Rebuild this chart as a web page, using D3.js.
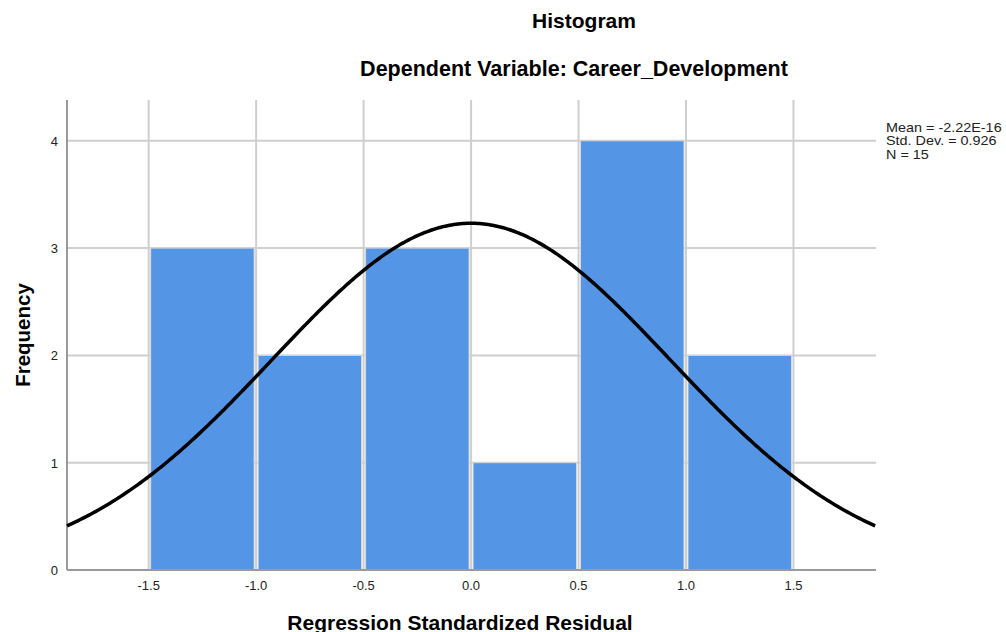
<!DOCTYPE html>
<html>
<head>
<meta charset="utf-8">
<script src="https://cdn.jsdelivr.net/npm/d3@7"></script>
<style>
  body { margin: 0; background: #fff; }
  text { font-family: Arial, "Liberation Sans", sans-serif; }
</style>
</head>
<body>
<div id="graphic"></div>
<script>
// histogram data
const binStarts = [-1.5, -1.0, -0.5, 0.0, 0.5, 1.0];
const binWidth = 0.5;
const frequencies = [3, 2, 3, 1, 4, 2];
const xTicks = [-1.5, -1.0, -0.5, 0.0, 0.5, 1.0, 1.5];
const yTicks = [0, 1, 2, 3, 4];
// normal curve stats (as printed in legend)
const mean = -2.22e-16, stdDev = 0.926, nCases = 15;
const legendLines = ["Mean = -2.22E-16", "Std. Dev. = 0.926", "N = 15"];

const width = 1006, height = 632;
const margin = { top: 100, left: 67, right: 130, bottom: 62 };

const svg = d3.select("#graphic").append("svg")
  .attr("width", width)
  .attr("height", height);

const x = d3.scaleLinear()
  .domain([-1.88, 1.884])
  .range([margin.left, width - margin.right]);

const y = d3.scaleLinear()
  .domain([0, 4.38])
  .range([height - margin.bottom, margin.top]);

// gridlines
svg.append("g").selectAll("line")
  .data(xTicks)
  .enter().append("line")
  .attr("x1", d => x(d)).attr("x2", d => x(d))
  .attr("y1", y(0)).attr("y2", margin.top)
  .attr("stroke", "#cfcfcf").attr("stroke-width", 2);

svg.append("g").selectAll("line")
  .data(yTicks.slice(1))
  .enter().append("line")
  .attr("x1", margin.left).attr("x2", width - margin.right)
  .attr("y1", d => y(d)).attr("y2", d => y(d))
  .attr("stroke", "#cfcfcf").attr("stroke-width", 2);

// bars
svg.append("g").selectAll("rect")
  .data(binStarts)
  .enter().append("rect")
  .attr("x", d => x(d) + 2)
  .attr("width", d => x(d + binWidth) - x(d) - 4)
  .attr("y", (d, i) => y(frequencies[i]))
  .attr("height", (d, i) => y(0) - y(frequencies[i]))
  .attr("fill", "#5595e5")
  .attr("stroke", "#d8d8d8")
  .attr("stroke-width", 1);

// axis lines
svg.append("line")
  .attr("x1", margin.left).attr("x2", margin.left)
  .attr("y1", margin.top).attr("y2", y(0))
  .attr("stroke", "#9a9a9a").attr("stroke-width", 2);
svg.append("line")
  .attr("x1", margin.left).attr("x2", width - margin.right)
  .attr("y1", y(0)).attr("y2", y(0))
  .attr("stroke", "#9a9a9a").attr("stroke-width", 2);

// normal curve
const pdf = v => Math.exp(-0.5 * Math.pow((v - mean) / stdDev, 2)) / (stdDev * Math.sqrt(2 * Math.PI));
const curvePts = d3.range(x.domain()[0], x.domain()[1] + 0.001, 0.01);
svg.append("path")
  .datum(curvePts)
  .attr("fill", "none")
  .attr("stroke", "#000")
  .attr("stroke-width", 3.5)
  .attr("d", d3.line().x(d => x(d)).y(d => y(nCases * binWidth * pdf(d))));

// tick labels
svg.append("g").selectAll("text")
  .data(xTicks)
  .enter().append("text")
  .attr("x", d => x(d))
  .attr("y", y(0) + 20)
  .attr("text-anchor", "middle")
  .attr("font-size", 13)
  .attr("fill", "#222")
  .text(d => d.toFixed(1));

svg.append("g").selectAll("text")
  .data(yTicks)
  .enter().append("text")
  .attr("x", margin.left - 9)
  .attr("y", d => y(d) + 5)
  .attr("text-anchor", "end")
  .attr("font-size", 13)
  .attr("fill", "#222")
  .text(d => d);

// titles
svg.append("text")
  .attr("x", 584).attr("y", 28)
  .attr("text-anchor", "middle")
  .attr("font-size", 21).attr("font-weight", "bold")
  .text("Histogram");
svg.append("text")
  .attr("x", 574).attr("y", 76)
  .attr("text-anchor", "middle")
  .attr("font-size", 21.5).attr("font-weight", "bold")
  .text("Dependent Variable: Career_Development");

svg.append("text")
  .attr("x", 460).attr("y", 630)
  .attr("text-anchor", "middle")
  .attr("font-size", 21).attr("font-weight", "bold")
  .text("Regression Standardized Residual");
svg.append("text")
  .attr("transform", "translate(30,335) rotate(-90)")
  .attr("text-anchor", "middle")
  .attr("font-size", 20.5).attr("font-weight", "bold")
  .text("Frequency");

// legend (text in the reference is slightly stretched sideways)
svg.append("g")
  .attr("transform", "translate(886,0) scale(1.2,1)")
  .selectAll("text")
  .data(legendLines)
  .enter().append("text")
  .attr("x", 0)
  .attr("y", (d, i) => 132 + i * 13.5)
  .attr("font-size", 12)
  .attr("fill", "#222")
  .text(d => d);
</script>
</body>
</html>
